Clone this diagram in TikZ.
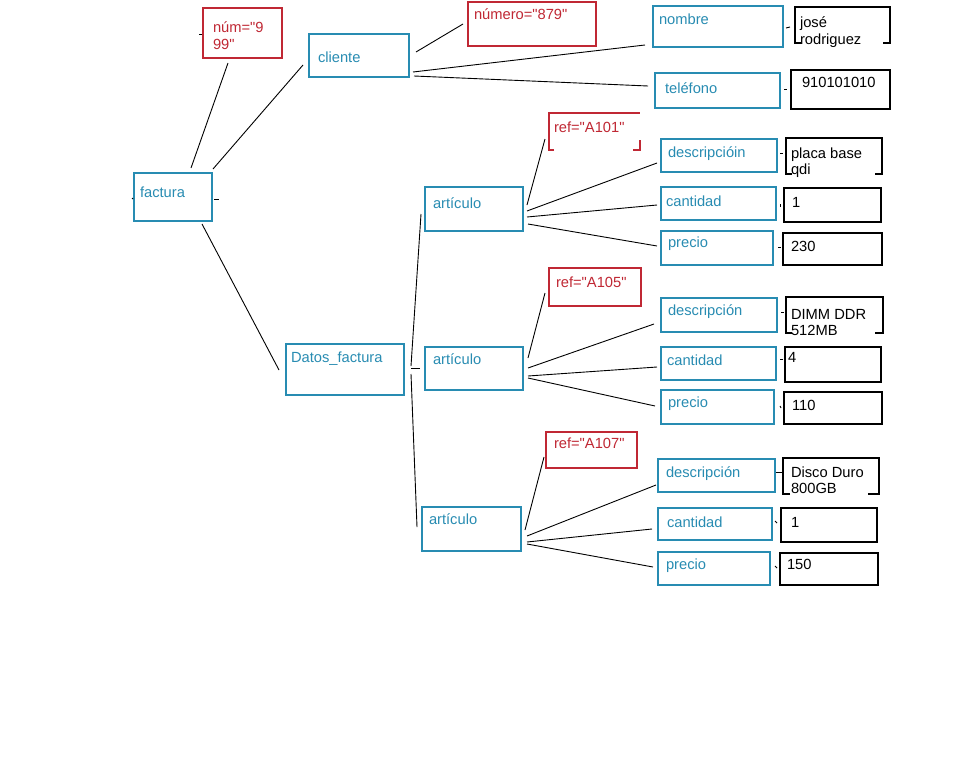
\documentclass[tikz,border=0pt]{standalone}
\usepackage{fontspec}
\setmainfont{Liberation Sans}[Ligatures=TeXOff]
\definecolor{tb}{RGB}{40,140,178}
\definecolor{tr}{RGB}{192,40,52}
\tikzset{
  every node/.style={inner sep=0pt, outer sep=0pt},
  boxb/.style={draw=tb, line width=1.1pt, anchor=north west},
  boxr/.style={draw=tr, line width=1.1pt, anchor=north west},
  boxk/.style={draw=black, line width=1.1pt, anchor=north west},
  boxn/.style={anchor=north west},
  txtb/.style={text=tb, anchor=base west, font=\fontsize{14.7}{17}\selectfont},
  txtr/.style={text=tr, anchor=base west, font=\fontsize{14.7}{17}\selectfont},
  txtk/.style={text=black, anchor=base west, font=\fontsize{14.7}{17}\selectfont},
  conn/.style={draw=black, line width=0.9pt},
  pline/.style={draw=black, line width=1.1pt},
  plr/.style={draw=tr, line width=1.1pt},
}
\newcommand\mybx[6]{\node[#1, minimum width=#5pt, minimum height=#6pt] (#2) at (#3,#4) {};}
\newcommand\mytx[5]{\node[#1] (#2) at (#3,#4) {#5};}
\newcommand\mycn[4]{\draw[conn] ([shift={(#2)}]#1.north west) -- ([shift={(#4)}]#3.north west);}
\begin{document}
\begin{tikzpicture}[x=1pt,y=-1pt]
\fill[white] (0,0) rectangle (960,763);
\useasboundingbox (0,0) rectangle (960,763);

% boxes
\mybx{boxr}{num}{203}{8}{79}{50}
\mybx{boxb}{cliente}{309}{34}{100}{43}
\mybx{boxb}{factura}{134}{173}{78}{48}
\mybx{boxr}{numero}{468}{2}{128}{44}
\mybx{boxb}{nombre}{653}{6}{130}{41}
\mybx{boxn}{jose}{795}{7}{95}{36}
\mybx{boxb}{telefono}{655}{73}{125}{35}
\mybx{boxk}{telv}{791}{70}{99}{39}
\mybx{boxb}{art1}{425}{187}{98}{44}
\mybx{boxn}{ref1}{549}{113}{91}{37}
\mybx{boxb}{desc1}{661}{139}{116}{33}
\mybx{boxn}{placa}{786}{138}{96}{36}
\mybx{boxb}{cant1}{661}{187}{115}{33}
\mybx{boxk}{v1a}{784}{188}{97}{34}
\mybx{boxb}{prec1}{661}{231}{112}{34}
\mybx{boxk}{v230}{783}{233}{99}{32}
\mybx{boxb}{datos}{286}{344}{118}{51}
\mybx{boxb}{art2}{425}{347}{98}{43}
\mybx{boxr}{ref2}{549}{268}{92}{38}
\mybx{boxb}{desc2}{661}{298}{116}{34}
\mybx{boxn}{dimm}{786}{297}{97}{36}
\mybx{boxb}{cant2}{661}{347}{115}{33}
\mybx{boxk}{v4}{785}{347}{96}{35}
\mybx{boxb}{prec2}{661}{390}{113}{34}
\mybx{boxk}{v110}{784}{392}{98}{32}
\mybx{boxb}{art3}{422}{507}{99}{44}
\mybx{boxr}{ref3}{546}{432}{91}{36}
\mybx{boxb}{desc3}{658}{459}{117}{33}
\mybx{boxn}{disco}{783}{458}{96}{36}
\mybx{boxb}{cant3}{658}{508}{114}{32}
\mybx{boxk}{v1b}{781}{508}{96}{34}
\mybx{boxb}{prec3}{658}{552}{112}{33}
\mybx{boxk}{v150}{780}{553}{98}{32}

% partial borders
\draw[pline] ([xshift=6pt]jose.south west) -- (jose.south west) -- (jose.north west) -- (jose.north east) -- (jose.south east) -- ([xshift=-7pt]jose.south east);
\draw[pline] ([xshift=6pt]placa.south west) -- (placa.south west) -- (placa.north west) -- (placa.north east) -- (placa.south east) -- ([xshift=-7pt]placa.south east);
\draw[pline] ([xshift=6pt]dimm.south west) -- (dimm.south west) -- (dimm.north west) -- (dimm.north east) -- (dimm.south east) -- ([xshift=-8pt]dimm.south east);
\draw[pline] ([xshift=7pt]disco.south west) -- (disco.south west) -- (disco.north west) -- (disco.north east) -- (disco.south east) -- ([xshift=-11pt]disco.south east);
\draw[plr] ([xshift=5pt]ref1.south west) -- (ref1.south west) -- (ref1.north west) -- (ref1.north east);
\draw[plr] ([yshift=10pt]ref1.south east) -- (ref1.south east) -- ([xshift=-7pt]ref1.south east);

% texts
\mytx{txtr}{num-t1}{213}{32}{núm="9}
\mytx{txtr}{num-t2}{213}{49}{99"}
\mytx{txtb}{cliente-t}{318}{62}{cliente}
\mytx{txtb}{factura-t}{140}{197}{factura}
\mytx{txtr}{numero-t}{474}{19}{número="879"}
\mytx{txtb}{nombre-t}{659}{24}{nombre}
\mytx{txtk}{jose-t1}{800}{27}{josé}
\mytx{txtk}{jose-t2}{800}{44}{rodriguez}
\mytx{txtb}{telefono-t}{665}{93}{teléfono}
\mytx{txtk}{telv-t}{802}{87}{910101010}
\mytx{txtb}{art1-t}{433}{208}{artículo}
\mytx{txtr}{ref1-t}{554}{132}{ref="A101"}
\mytx{txtb}{desc1-t}{668}{157}{descripcióin}
\mytx{txtk}{placa-t1}{791}{158}{placa base}
\mytx{txtk}{placa-t2}{791}{174}{qdi}
\mytx{txtb}{cant1-t}{666}{206}{cantidad}
\mytx{txtk}{v1a-t}{792}{207}{1}
\mytx{txtb}{prec1-t}{668}{247}{precio}
\mytx{txtk}{v230-t}{791}{251}{230}
\mytx{txtb}{datos-t}{291}{362}{Datos\_factura}
\mytx{txtb}{art2-t}{433}{364}{artículo}
\mytx{txtr}{ref2-t}{556}{287}{ref="A105"}
\mytx{txtb}{desc2-t}{668}{315}{descripción}
\mytx{txtk}{dimm-t1}{791}{319}{DIMM DDR}
\mytx{txtk}{dimm-t2}{791}{335}{512MB}
\mytx{txtb}{cant2-t}{667}{365}{cantidad}
\mytx{txtk}{v4-t}{788}{362}{4}
\mytx{txtb}{prec2-t}{668}{407}{precio}
\mytx{txtk}{v110-t}{792}{410}{110}
\mytx{txtb}{art3-t}{429}{524}{artículo}
\mytx{txtr}{ref3-t}{554}{448}{ref="A107"}
\mytx{txtb}{desc3-t}{666}{477}{descripción}
\mytx{txtk}{disco-t1}{791}{477}{Disco Duro}
\mytx{txtk}{disco-t2}{791}{493}{800GB}
\mytx{txtb}{cant3-t}{667}{527}{cantidad}
\mytx{txtk}{v1b-t}{791}{527}{1}
\mytx{txtb}{prec3-t}{666}{569}{precio}
\mytx{txtk}{v150-t}{787}{569}{150}

% connectors
\mycn{factura}{57,-5}{num}{25,55}
\mycn{factura}{79,-4}{cliente}{-6,31}
\mycn{factura}{68,51}{datos}{-7,26}
\mycn{cliente}{107,18}{numero}{-5,22}
\mycn{cliente}{104,38}{nombre}{-8,39}
\mycn{cliente}{105,42}{telefono}{-7,13}
\mycn{datos}{125,22}{art1}{-4,27}
\mycn{datos}{125,24}{art2}{-5,21}
\mycn{datos}{125,30}{art3}{-5,20}
\mycn{art1}{102,18}{ref1}{-4,26}
\mycn{art1}{102,24}{desc1}{-4,24}
\mycn{art1}{102,30}{cant1}{-4,18}
\mycn{art1}{103,37}{prec1}{-4,15}
\mycn{art2}{103,11}{ref2}{-4,25}
\mycn{art2}{103,21}{desc2}{-7,26}
\mycn{art2}{103,29}{cant2}{-4,20}
\mycn{art2}{103,31}{prec2}{-6,16}
\mycn{art3}{103,23}{ref3}{-2,25}
\mycn{art3}{105,29}{desc3}{-2,26}
\mycn{art3}{105,35}{cant3}{-6,21}
\mycn{art3}{105,37}{prec3}{-5,15}
% short ticks between labels and values
\mycn{nombre}{133,22}{jose}{-5,20}
\mycn{telefono}{129,16}{telv}{-4,19}
\mycn{desc1}{119,14}{placa}{-3,15}
\mycn{cant1}{119,17}{v1a}{-4,19}
\mycn{prec1}{117,16}{v230}{-2,14}
\mycn{desc2}{120,14}{dimm}{-2,15}
\mycn{cant2}{119,12}{v4}{-2,12}
\mycn{prec2}{119,16}{v110}{-3,16}
\mycn{desc3}{118,13}{disco}{-1,14}
\mycn{cant3}{117,13}{v1b}{-4,15}
\mycn{prec3}{117,14}{v150}{-3,15}
% stubs
\draw[conn] ([shift={(80,26)}]factura.north west) -- ++(5,0);
\draw[conn] ([shift={(-2,25)}]factura.north west) -- ++(1,1);
\draw[conn] ([shift={(-4,26)}]num.north west) -- ++(3,0);
\end{tikzpicture}
\end{document}
